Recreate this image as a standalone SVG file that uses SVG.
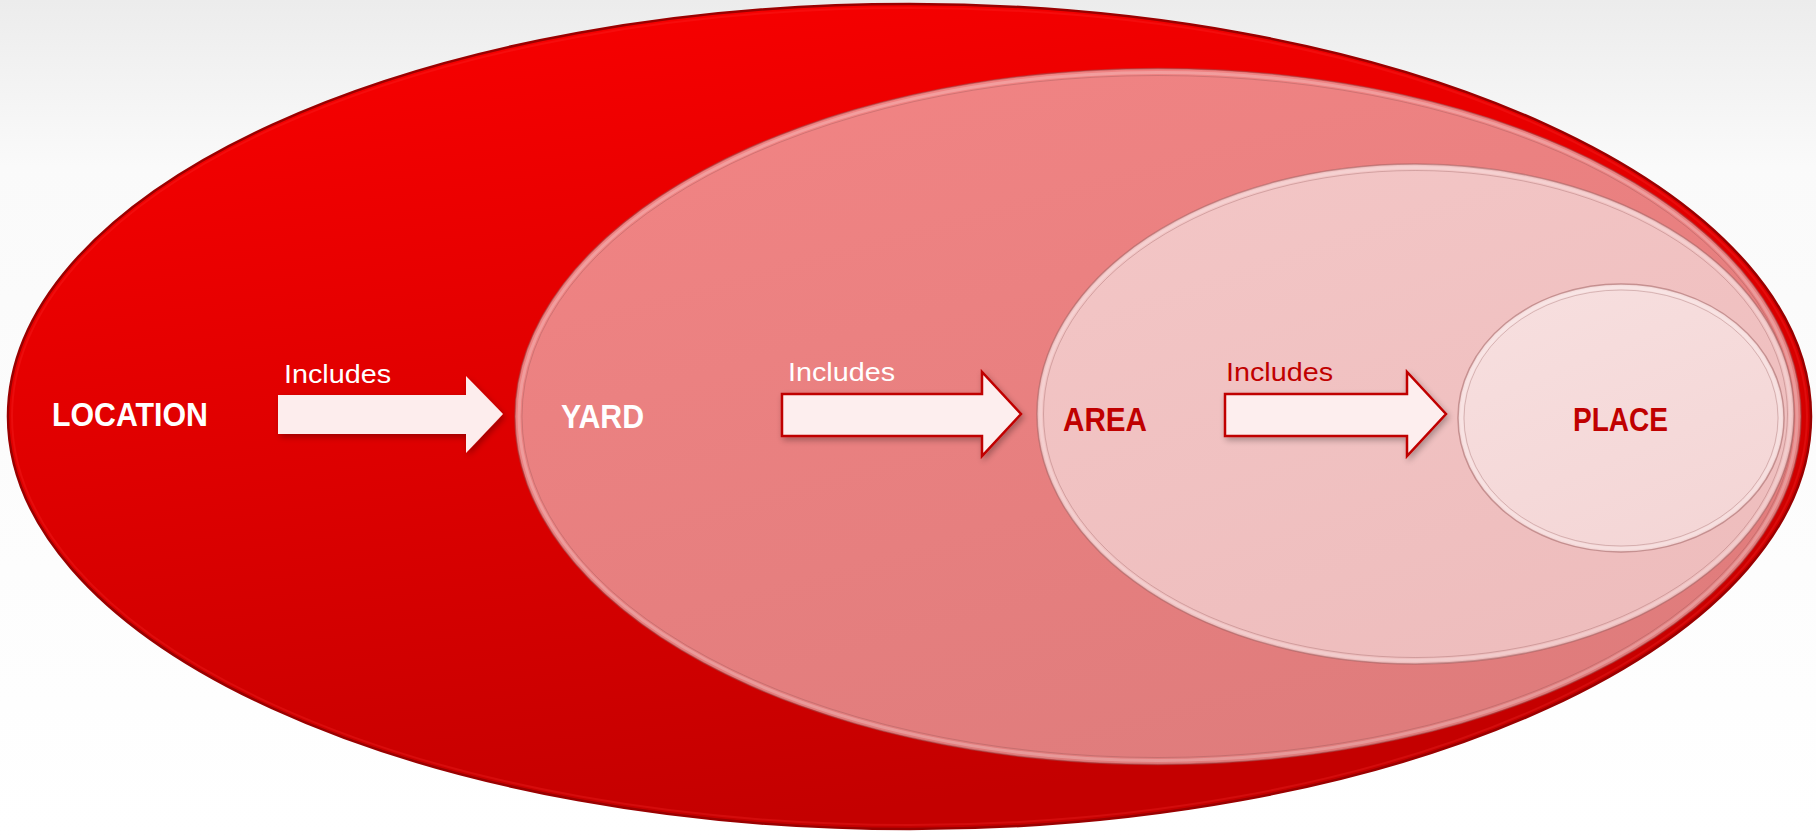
<svg xmlns="http://www.w3.org/2000/svg" width="1816" height="836" viewBox="0 0 1816 836">
<defs>
<linearGradient id="bg" x1="0" y1="0" x2="0" y2="1">
<stop offset="0" stop-color="#ececec"/><stop offset="0.2" stop-color="#fafafa"/><stop offset="1" stop-color="#ffffff"/>
</linearGradient>
<linearGradient id="gOuter" x1="0.1" y1="0" x2="0.4" y2="1">
<stop offset="0" stop-color="#fa0000"/><stop offset="1" stop-color="#c40000"/>
</linearGradient>
<linearGradient id="gYard" x1="0.1" y1="0" x2="0.6" y2="1">
<stop offset="0" stop-color="#f28484"/><stop offset="1" stop-color="#df7c7c"/>
</linearGradient>
<linearGradient id="gArea" x1="0.1" y1="0" x2="0.6" y2="1">
<stop offset="0" stop-color="#f3c6c6"/><stop offset="1" stop-color="#eebdbd"/>
</linearGradient>
<linearGradient id="gPlace" x1="0.1" y1="0" x2="0.6" y2="1">
<stop offset="0" stop-color="#f7dfdf"/><stop offset="1" stop-color="#f4d6d6"/>
</linearGradient>
<filter id="shadow" x="-10%" y="-20%" width="130%" height="150%">
<feGaussianBlur in="SourceAlpha" stdDeviation="3"/>
<feOffset dx="2" dy="3" result="b"/>
<feComponentTransfer><feFuncA type="linear" slope="0.3"/></feComponentTransfer>
<feMerge><feMergeNode/><feMergeNode in="SourceGraphic"/></feMerge>
</filter>
</defs>
<style>
.rim{fill:none;stroke:#ffffff;stroke-opacity:0.22;stroke-width:3}
.edge{fill:none;stroke:#8c5050;stroke-opacity:0.3;stroke-width:1}
.lbl{font-family:"Liberation Sans",Arial,sans-serif;font-weight:bold;font-size:33px}
.inc{font-family:"Liberation Sans",Arial,sans-serif;font-size:25px}
.w{fill:#ffffff}
.r{fill:#c00000}
.arrowW{fill:#fdeded}
.arrowR{fill:#fdeeee;stroke:#c00000;stroke-width:2.5}
</style>
<rect width="1816" height="836" fill="url(#bg)"/>
<g id="location">
<ellipse cx="909.5" cy="416.5" rx="901.5" ry="412.5" fill="url(#gOuter)" stroke="#9a0000" stroke-width="2.5"/>
<ellipse cx="909.5" cy="416.5" rx="897.5" ry="408.5" fill="none" stroke="#ff3030" stroke-opacity="0.25" stroke-width="2"/>
<text class="lbl w" x="52" y="426" textLength="156" lengthAdjust="spacingAndGlyphs">LOCATION</text>
</g>
<g id="yard">
<ellipse cx="1158" cy="416.5" rx="643" ry="348" fill="url(#gYard)" stroke="#a04848" stroke-opacity="0.55" stroke-width="1.5"/>
<ellipse class="rim" cx="1158" cy="416.5" rx="639" ry="344"/>
<ellipse class="edge" cx="1158" cy="416.5" rx="636" ry="341"/>
<text class="lbl w" x="561" y="428" textLength="83" lengthAdjust="spacingAndGlyphs">YARD</text>
</g>
<g id="area">
<ellipse cx="1415.5" cy="414" rx="378.5" ry="250" fill="url(#gArea)" stroke="#a06060" stroke-opacity="0.55" stroke-width="1.5"/>
<ellipse class="rim" cx="1415.5" cy="414" rx="375" ry="246.5"/>
<ellipse class="edge" cx="1415.5" cy="414" rx="372" ry="243.5"/>
<text class="lbl r" x="1063" y="431" textLength="84" lengthAdjust="spacingAndGlyphs">AREA</text>
</g>
<g id="place">
<ellipse cx="1621" cy="418" rx="163" ry="134" fill="url(#gPlace)" stroke="#a06060" stroke-opacity="0.55" stroke-width="1.5"/>
<ellipse class="rim" cx="1621" cy="418" rx="159.5" ry="130.5"/>
<ellipse class="edge" cx="1621" cy="418" rx="157" ry="128"/>
<text class="lbl r" x="1573" y="431" textLength="95" lengthAdjust="spacingAndGlyphs">PLACE</text>
</g>
<g id="connectors">
<g filter="url(#shadow)">
<polygon class="arrowW" points="278,395 466,395 466,376 503,414 466,453 466,434 278,434"/>
<polygon class="arrowR" points="782,394 982,394 982,372 1021,414 982,456 982,436 782,436"/>
<polygon class="arrowR" points="1225,394 1407,394 1407,372 1446,414 1407,456 1407,436 1225,436"/>
</g>
<text class="inc w" x="284" y="383" textLength="107" lengthAdjust="spacingAndGlyphs">Includes</text>
<text class="inc w" x="788" y="381" textLength="107" lengthAdjust="spacingAndGlyphs">Includes</text>
<text class="inc r" x="1226" y="381" textLength="107" lengthAdjust="spacingAndGlyphs">Includes</text>
</g>
</svg>
